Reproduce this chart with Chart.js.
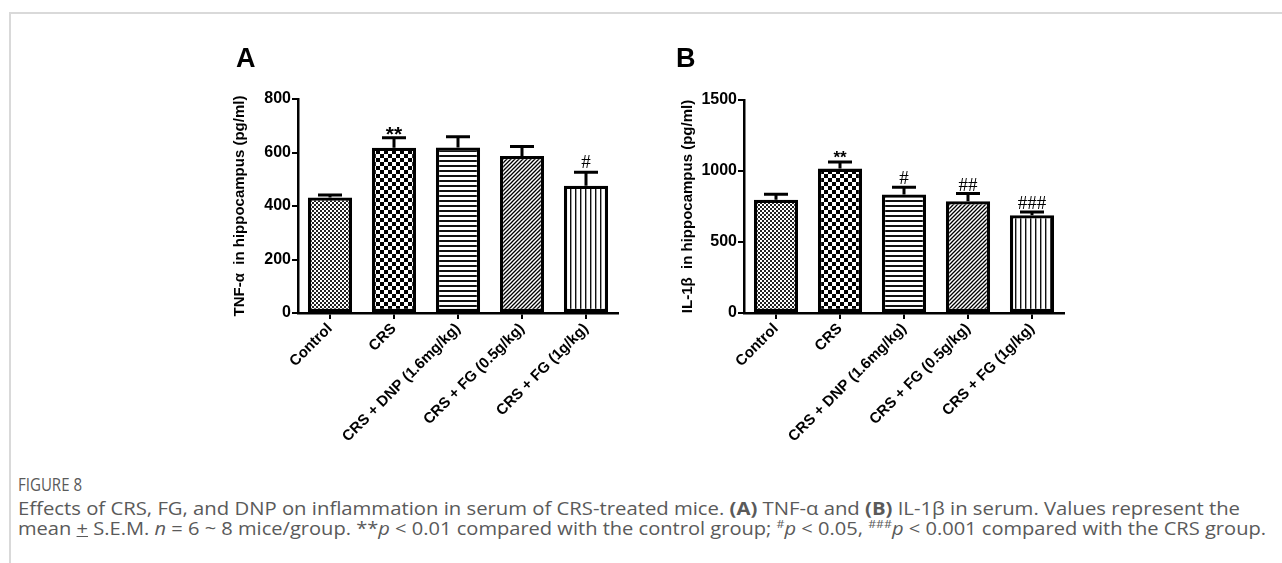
<!DOCTYPE html>
<html>
<head>
<meta charset="utf-8">
<script src="https://cdn.jsdelivr.net/npm/chart.js@4/dist/chart.umd.min.js"></script>
<style>
  html,body{margin:0;padding:0;background:#fff;}
  body{width:1282px;height:563px;position:relative;overflow:hidden;}
  #frameTop{position:absolute;left:10px;top:12px;width:1272px;height:2px;background:#d9d9d9;}
  #frameLeft{position:absolute;left:9px;top:12px;width:2px;height:551px;background:#d9d9d9;}
  .cv{position:absolute;}
  .cap{position:absolute;left:18px;white-space:nowrap;font-family:"Open Sans","Noto Sans",sans-serif;color:#5a5a5a;transform-origin:0 0;}
  #figlab{top:472px;font-size:18px;}
  #l1{top:496px;font-size:18px;}
  #l2{top:516px;font-size:18px;}
</style>
</head>
<body>
<div id="frameTop"></div>
<div id="frameLeft"></div>
<div class="cv" style="left:200px;top:30px;width:440px;height:420px;"><canvas id="cA" width="440" height="420"></canvas></div>
<div class="cv" style="left:640px;top:30px;width:440px;height:420px;"><canvas id="cB" width="440" height="420"></canvas></div>
<div class="cap" id="figlab">FIGURE 8</div>
<div class="cap" id="l1">Effects of CRS, FG, and DNP on inflammation in serum of CRS-treated mice. <b>(A)</b> TNF-α and <b>(B)</b> IL-1β in serum. Values represent the</div>
<div class="cap" id="l2">mean <u>+</u> S.E.M. <i>n</i> = 6 ~ 8 mice/group. **<i>p</i> &lt; 0.01 compared with the control group; <sup style="font-size:11px">#</sup><i>p</i> &lt; 0.05, <sup style="font-size:11px">###</sup><i>p</i> &lt; 0.001 compared with the CRS group.</div>
<script>
// ---- data ----
const categories = ['Control', 'CRS', 'CRS + DNP (1.6mg/kg)', 'CRS + FG (0.5g/kg)', 'CRS + FG (1g/kg)'];
const tnfMean = [432, 618, 619, 587, 476];
const tnfSem  = [9, 37, 40, 35, 50];
const tnfMarks = ['', '**', '', '', '#'];
const tnfTicks = [0, 200, 400, 600, 800];
const il1Mean = [798, 1017, 834, 787, 688];
const il1Sem  = [38, 46, 51, 54, 23];
const il1Marks = ['', '**', '#', '##', '###'];
const il1Ticks = [0, 500, 1000, 1500];

// ---- patterns ----
function makePattern(w, h, draw) {
  const c = document.createElement('canvas');
  c.width = w; c.height = h;
  const x = c.getContext('2d');
  x.fillStyle = '#fff'; x.fillRect(0, 0, w, h);
  x.fillStyle = '#000'; x.strokeStyle = '#000';
  draw(x);
  return document.createElement('canvas').getContext('2d').createPattern(c, 'repeat');
}
const patFineChecker = makePattern(4, 4, x => { x.fillStyle='#222'; x.fillRect(0,0,2,2); x.fillRect(2,2,2,2); });
const patChecker = makePattern(8, 8, x => { x.fillRect(0,0,4,4); x.fillRect(4,4,4,4); });
const patHoriz = makePattern(4, 5, x => { x.fillStyle='#111'; x.fillRect(0,0,4,2); });
const patDiag = makePattern(4, 4, x => { x.lineWidth = 1.3; x.beginPath(); x.moveTo(-1,5); x.lineTo(5,-1); x.moveTo(-1,1); x.lineTo(1,-1); x.moveTo(3,5); x.lineTo(5,3); x.stroke(); });
const patVert = makePattern(5, 4, x => { x.fillStyle='#111'; x.fillRect(0,0,1.4,4); });
const fills = [patFineChecker, patChecker, patHoriz, patDiag, patVert];

const FONT = '"Liberation Sans", Arial, sans-serif';

function buildChart(id, cfg) {
  const plugin = {
    id: 'extras' + id,
    afterDatasetsDraw(chart) {
      const ctx = chart.ctx;
      const xs = chart.scales.x, ys = chart.scales.y;
      ctx.save();
      ctx.strokeStyle = '#000';
      ctx.lineWidth = 3;
      cfg.mean.forEach((m, i) => {
        const x = xs.getPixelForValue(i);
        const y0 = ys.getPixelForValue(m);
        const y1 = ys.getPixelForValue(m + cfg.sem[i]);
        ctx.beginPath();
        ctx.moveTo(x, y0); ctx.lineTo(x, y1);
        ctx.moveTo(x - 12, y1); ctx.lineTo(x + 12, y1);
        ctx.stroke();
        const t = cfg.marks[i];
        if (t) {
          ctx.fillStyle = '#000';
          ctx.textAlign = 'center';
          ctx.textBaseline = 'alphabetic';
          if (t.indexOf('*') >= 0) {
            ctx.font = cfg.starFont;
            ctx.fillText(t, x, y1 + cfg.starOff);
          } else {
            ctx.font = cfg.hashFont;
            ctx.fillText(t, x, y1 + cfg.hashOff);
          }
        }
      });
      // panel letter
      ctx.fillStyle = '#000';
      ctx.font = 'bold 27px ' + FONT;
      ctx.textAlign = 'left';
      ctx.textBaseline = 'alphabetic';
      ctx.fillText(cfg.letter, cfg.letterX, 37);
      ctx.restore();
    }
  };
  return new Chart(document.getElementById(id), {
    type: 'bar',
    data: {
      labels: categories,
      datasets: [{
        data: cfg.mean,
        backgroundColor: fills,
        borderColor: '#000',
        borderWidth: 3.3,
        borderSkipped: false,
        barPercentage: 0.69,
        categoryPercentage: 1.0
      }]
    },
    options: {
      responsive: false,
      animation: false,
      devicePixelRatio: 1,
      layout: { padding: { top: cfg.top, right: 440 - cfg.right, left: 0, bottom: 0 } },
      plugins: { legend: { display: false }, tooltip: { enabled: false } },
      scales: {
        x: {
          offset: true,
          grid: { display: true, drawOnChartArea: false, drawTicks: true, tickLength: 6, color: '#000', lineWidth: 2, offset: false },
          border: { display: true, color: '#000', width: 2.5 },
          ticks: { color: '#000', font: { family: FONT, size: 15, weight: 'bold' }, maxRotation: 45, minRotation: 45, padding: 1, autoSkip: false },
          afterFit(s) { s.height = 420 - cfg.bottom; }
        },
        y: {
          min: 0, max: cfg.ticks[cfg.ticks.length - 1],
          afterBuildTicks(s) { s.ticks = cfg.ticks.map(v => ({ value: v })); },
          grid: { display: true, drawOnChartArea: false, drawTicks: true, tickLength: 6, color: '#000', lineWidth: 2 },
          border: { display: true, color: '#000', width: 2.5 },
          ticks: { color: '#000', font: { family: FONT, size: 16, weight: 'bold' }, padding: 1, callback: v => String(v) },
          title: { display: true, text: cfg.ytitle, color: '#000', font: { family: FONT, size: 15, weight: 'bold' }, padding: { top: cfg.titlePad, bottom: 0 } },
          afterFit(s) { s.width = cfg.left; }
        }
      }
    },
    plugins: [plugin]
  });
}

buildChart('cA', {
  mean: tnfMean, sem: tnfSem, marks: tnfMarks, ticks: tnfTicks,
  ytitle: 'TNF-α  in hippocampus (pg/ml)',
  left: 98, top: 69, right: 418, bottom: 283, titlePad: 31,
  letter: 'A', letterX: 36,
  starFont: 'bold 21px ' + FONT, starOff: 3,
  hashFont: '19px "Liberation Serif", serif', hashOff: -4
});
buildChart('cB', {
  mean: il1Mean, sem: il1Sem, marks: il1Marks, ticks: il1Ticks,
  ytitle: 'IL-1β  in hippocampus (pg/ml)',
  left: 104, top: 70, right: 424, bottom: 283, titlePad: 39,
  letter: 'B', letterX: 36,
  starFont: 'bold 17px ' + FONT, starOff: 1,
  hashFont: '19px "Liberation Serif", serif', hashOff: -3
});

// caption line fitting
function fit(id, right) {
  const el = document.getElementById(id);
  const w = el.getBoundingClientRect().width;
  el.style.transform = 'scaleX(' + ((right - 18) / w) + ')';
}
fit('figlab', 82);
fit('l1', 1240);
fit('l2', 1266);
</script>
</body>
</html>
